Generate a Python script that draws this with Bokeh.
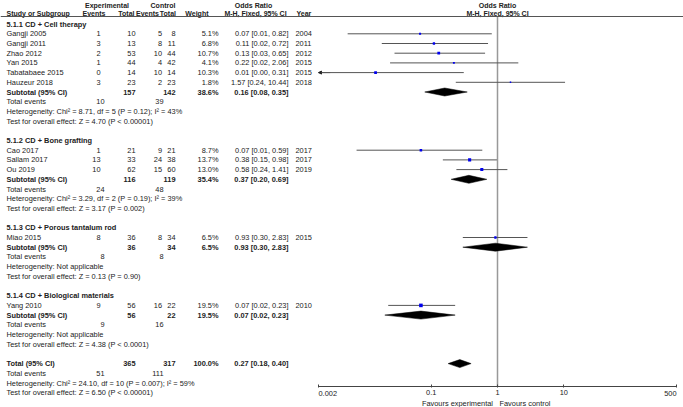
import math
from bokeh.plotting import figure
from bokeh.models import (ColumnDataSource, Range1d, FixedTicker, Span, Label, Arrow, NormalHead,
                          LogAxis, LogScale)
from bokeh.core.properties import value
from bokeh.embed import file_html
from bokeh.resources import INLINE

# ---------------- data ----------------
groups = ["5.1.1 CD + Cell therapy", "5.1.2 CD + Bone grafting",
          "5.1.3 CD + Porous tantalum rod", "5.1.4 CD + Biological materials"]
study_group = [0, 0, 0, 0, 0, 0, 1, 1, 1, 2, 3]
studies = ["Gangji 2005", "Gangji 2011", "Zhao 2012", "Yan 2015", "Tabatabaee 2015",
           "Hauzeur 2018", "Cao 2017", "Sallam 2017", "Ou 2019", "Miao 2015", "Yang 2010"]
exp_events = [1, 3, 2, 1, 0, 3, 1, 13, 10, 8, 9]
exp_total = [10, 13, 53, 44, 14, 23, 21, 33, 62, 36, 56]
ctrl_events = [5, 8, 10, 4, 10, 2, 9, 24, 15, 8, 16]
ctrl_total = [8, 11, 44, 42, 14, 23, 21, 38, 60, 34, 22]
weights = [5.1, 6.8, 10.7, 4.1, 10.3, 1.8, 8.7, 13.7, 13.0, 6.5, 19.5]
or_labels = ["0.07 [0.01, 0.82]", "0.11 [0.02, 0.72]", "0.13 [0.03, 0.65]",
             "0.22 [0.02, 2.06]", "0.01 [0.00, 0.31]", "1.57 [0.24, 10.44]",
             "0.07 [0.01, 0.59]", "0.38 [0.15, 0.98]", "0.58 [0.24, 1.41]",
             "0.93 [0.30, 2.83]", "0.07 [0.02, 0.23]"]
years = [2004, 2011, 2012, 2015, 2015, 2018, 2017, 2017, 2019, 2015, 2010]
# plotted odds ratios and CIs
or_est = [0.068, 0.11, 0.13, 0.22, 0.0145, 1.57, 0.07, 0.38, 0.58, 0.93, 0.07]
ci_lo = [0.0055, 0.018, 0.028, 0.024, 0.0003, 0.235, 0.0075, 0.15, 0.24, 0.30, 0.0225]
ci_hi = [0.82, 0.72, 0.65, 2.06, 0.31, 10.44, 0.59, 0.98, 1.41, 2.83, 0.23]

sub_exp_total = [157, 116, 36, 56]
sub_ctrl_total = [142, 119, 34, 22]
sub_weight = [38.6, 35.4, 6.5, 19.5]
sub_or_labels = ["0.16 [0.08, 0.35]", "0.37 [0.20, 0.69]", "0.93 [0.30, 2.83]", "0.07 [0.02, 0.23]"]
sub_or = [0.16, 0.37, 0.93, 0.07]
sub_lo = [0.08, 0.20, 0.30, 0.02]
sub_hi = [0.35, 0.69, 2.83, 0.23]
sub_exp_events = [10, 24, 8, 9]
sub_ctrl_events = [39, 48, 8, 16]
sub_het = ["Heterogeneity: Chi\u00b2 = 8.71, df = 5 (P = 0.12); I\u00b2 = 43%",
           "Heterogeneity: Chi\u00b2 = 3.29, df = 2 (P = 0.19); I\u00b2 = 39%",
           "Heterogeneity: Not applicable",
           "Heterogeneity: Not applicable"]
sub_test = ["Test for overall effect: Z = 4.70 (P < 0.00001)",
            "Test for overall effect: Z = 3.17 (P = 0.002)",
            "Test for overall effect: Z = 0.13 (P = 0.90)",
            "Test for overall effect: Z = 4.38 (P < 0.0001)"]

tot_exp_total = 365
tot_ctrl_total = 317
tot_weight = 100.0
tot_or_label = "0.27 [0.18, 0.40]"
tot_or, tot_lo, tot_hi = 0.27, 0.18, 0.40
tot_exp_events = 51
tot_ctrl_events = 111
tot_het = "Heterogeneity: Chi\u00b2 = 24.10, df = 10 (P = 0.007); I\u00b2 = 59%"
tot_test = "Test for overall effect: Z = 6.50 (P < 0.00001)"

axis_ticks = [0.002, 0.1, 1, 10, 500]
axis_tick_labels = ["0.002", "0.1", "1", "10", "500"]
favours_left = "Favours experimental"
favours_right = "Favours control"
null_effect = 1

# ---------------- layout constants (pixel units of the page) ----------------
W, H = 683, 407
DEC = 66.32      # px per decade on the odds-ratio axis
X_ONE = 497.0    # page x of OR = 1
ROW0, DY = 23.6, 9.7
HEAD_LINE = 16.0
AXIS_Y = 386.0

def ry(i):
    return ROW0 + i * DY

def to_or(xpx):
    return 10 ** ((xpx - X_ONE) / DEC)

FONT = value("Liberation Sans")
FSZ = "7.4px"
HSZ = "7px"
TXT = "#222222"

C_NAME, C_EEV, C_ETE, C_EN = 6, 100, 104, 135
C_CEV, C_CTE, C_CN, C_W, C_OR, C_YR = 161.5, 163, 175, 218, 288, 295

items = []

def add(x, y, t, align="left", bold=False, size=FSZ):
    items.append((x, y, t, align, bold, size))

# headers
add(106.5, 4.8, "Experimental", "center", True, HSZ)
add(162.5, 4.8, "Control", "center", True, HSZ)
add(253, 4.8, "Odds Ratio", "center", True, HSZ)
add(6, 12.5, "Study or Subgroup", "left", True, HSZ)
add(105, 12.5, "Events", "right", True, HSZ)
add(134, 12.5, "Total", "right", True, HSZ)
add(158.5, 12.5, "Events", "right", True, HSZ)
add(175.5, 12.5, "Total", "right", True, HSZ)
add(208, 12.5, "Weight", "right", True, HSZ)
add(255, 12.5, "M-H, Fixed, 95% CI", "center", True, HSZ)
add(296, 12.5, "Year", "left", True, HSZ)

study_y = [0.0] * len(studies)
sub_y = [0.0] * len(groups)
r = 0
for g in range(len(groups)):
    add(C_NAME, ry(r), groups[g], "left", True)
    r += 1
    for i in range(len(studies)):
        if study_group[i] != g:
            continue
        y = ry(r)
        study_y[i] = y
        add(C_NAME, y, studies[i])
        add(C_EEV, y, str(exp_events[i]), "right")
        add(C_EN, y, str(exp_total[i]), "right")
        add(C_CEV, y, str(ctrl_events[i]), "right")
        add(C_CN, y, str(ctrl_total[i]), "right")
        add(C_W, y, f"{weights[i]:.1f}%", "right")
        add(C_OR, y, or_labels[i], "right")
        add(C_YR, y, str(years[i]), "left")
        r += 1
    y = ry(r)
    sub_y[g] = y
    add(C_NAME, y, "Subtotal (95% CI)", "left", True)
    add(C_EN, y, str(sub_exp_total[g]), "right", True)
    add(C_CN, y, str(sub_ctrl_total[g]), "right", True)
    add(C_W, y, f"{sub_weight[g]:.1f}%", "right", True)
    add(C_OR, y, sub_or_labels[g], "right", True)
    r += 1
    y = ry(r)
    add(C_NAME, y, "Total events")
    add(C_ETE, y, str(sub_exp_events[g]), "right")
    add(C_CTE, y, str(sub_ctrl_events[g]), "right")
    r += 1
    add(C_NAME, ry(r), sub_het[g])
    r += 1
    add(C_NAME, ry(r), sub_test[g])
    r += 2

y = ry(r)
tot_y = y
add(C_NAME, y, "Total (95% CI)", "left", True)
add(C_EN, y, str(tot_exp_total), "right", True)
add(C_CN, y, str(tot_ctrl_total), "right", True)
add(C_W, y, f"{tot_weight:.1f}%", "right", True)
add(C_OR, y, tot_or_label, "right", True)
r += 1
y = ry(r)
add(C_NAME, y, "Total events")
add(C_ETE, y, str(tot_exp_events), "right")
add(C_CTE, y, str(tot_ctrl_events), "right")
r += 1
add(C_NAME, ry(r), tot_het)
r += 1
add(C_NAME, ry(r), tot_test)

# ---------------- single figure: table + forest plot ----------------
p = figure(width=W, height=H, x_axis_type="log",
           x_range=Range1d(to_or(0), to_or(W)), y_range=Range1d(H, 0),
           toolbar_location=None, output_backend="svg",
           x_axis_location=None, y_axis_location=None,
           min_border=0, outline_line_color=None)
p.x_scale = LogScale()
p.grid.visible = False

for align in ("left", "right", "center"):
    for bold in (False, True):
        for size in (FSZ, HSZ):
            sel = [it for it in items if it[3] == align and it[4] == bold and it[5] == size]
            if not sel:
                continue
            src = ColumnDataSource(dict(x=[to_or(s[0]) for s in sel], y=[s[1] for s in sel],
                                        t=[s[2] for s in sel]))
            p.text(x="x", y="y", text="t", source=src, text_align=align, text_baseline="middle",
                   text_font=FONT, text_font_size=value(size), text_color=TXT,
                   text_font_style="bold" if bold else "normal")

p.add_layout(Span(location=HEAD_LINE, dimension="width", line_color="#555555", line_width=1.2))

# plot header
p.text(x=[null_effect, null_effect], y=[4.8, 12.5], text=["Odds Ratio", "M-H, Fixed, 95% CI"],
       text_align="center", text_baseline="middle", text_font=FONT, text_font_size=value(HSZ),
       text_color=TXT, text_font_style="bold")

# line of no effect
p.segment(x0=[null_effect], y0=[HEAD_LINE], x1=[null_effect], y1=[AXIS_Y],
          line_color="#999999", line_width=1.5)

amin = axis_ticks[0]
lo_clip = [max(v, amin) for v in ci_lo]
p.segment(x0=lo_clip, y0=study_y, x1=ci_hi, y1=study_y, line_color="#555555", line_width=1)
sizes = [0.7 * math.sqrt(w) + 0.5 for w in weights]
p.scatter(x=or_est, y=study_y, size=sizes, marker="square", fill_color="#0000ee", line_color=None)
for i, v in enumerate(ci_lo):
    if v < amin:
        p.add_layout(Arrow(end=NormalHead(size=3, fill_color="#222222", line_color="#222222"),
                           x_start=amin * 1.5, y_start=study_y[i], x_end=amin, y_end=study_y[i],
                           line_color="#555555", line_width=1))

dxs = [[sub_lo[g], sub_or[g], sub_hi[g], sub_or[g]] for g in range(len(groups))] + [[tot_lo, tot_or, tot_hi, tot_or]]
dys = [[yy, yy - 4, yy, yy + 4] for yy in sub_y + [tot_y]]
p.patches(xs=dxs, ys=dys, fill_color="black", line_color="black", line_width=0.5)

# odds-ratio axis, fixed at its position inside the frame
ax = LogAxis(fixed_location=AXIS_Y, ticker=FixedTicker(ticks=axis_ticks))
ax.major_label_overrides = {t: ("" if k in (0, len(axis_ticks) - 1) else lab)
                            for k, (t, lab) in enumerate(zip(axis_ticks, axis_tick_labels))}
ax.bounds = (axis_ticks[0], axis_ticks[-1])
ax.minor_tick_line_color = None
ax.major_tick_in = 2
ax.major_tick_out = 1
ax.major_label_standoff = 2
ax.axis_line_color = "#444444"
ax.major_tick_line_color = "#444444"
ax.major_label_text_font = "Liberation Sans"
ax.major_label_text_font_size = FSZ
ax.major_label_text_color = TXT
p.add_layout(ax, "below")

lab_y = 393.0
fav_y = 402.5
p.add_layout(Label(x=axis_ticks[0], y=lab_y, text=axis_tick_labels[0], text_align="left",
                   text_baseline="middle", text_font="Liberation Sans", text_font_size=FSZ, text_color=TXT))
p.add_layout(Label(x=axis_ticks[-1], y=lab_y, text=axis_tick_labels[-1], text_align="right",
                   text_baseline="middle", text_font="Liberation Sans", text_font_size=FSZ, text_color=TXT))
p.add_layout(Label(x=null_effect, y=fav_y, x_offset=-4.5, text=favours_left, text_align="right",
                   text_baseline="middle", text_font="Liberation Sans", text_font_size=FSZ, text_color=TXT))
p.add_layout(Label(x=null_effect, y=fav_y, x_offset=2, text=favours_right, text_align="left",
                   text_baseline="middle", text_font="Liberation Sans", text_font_size=FSZ, text_color=TXT))

open("out.html", "w").write(file_html(p, INLINE))
